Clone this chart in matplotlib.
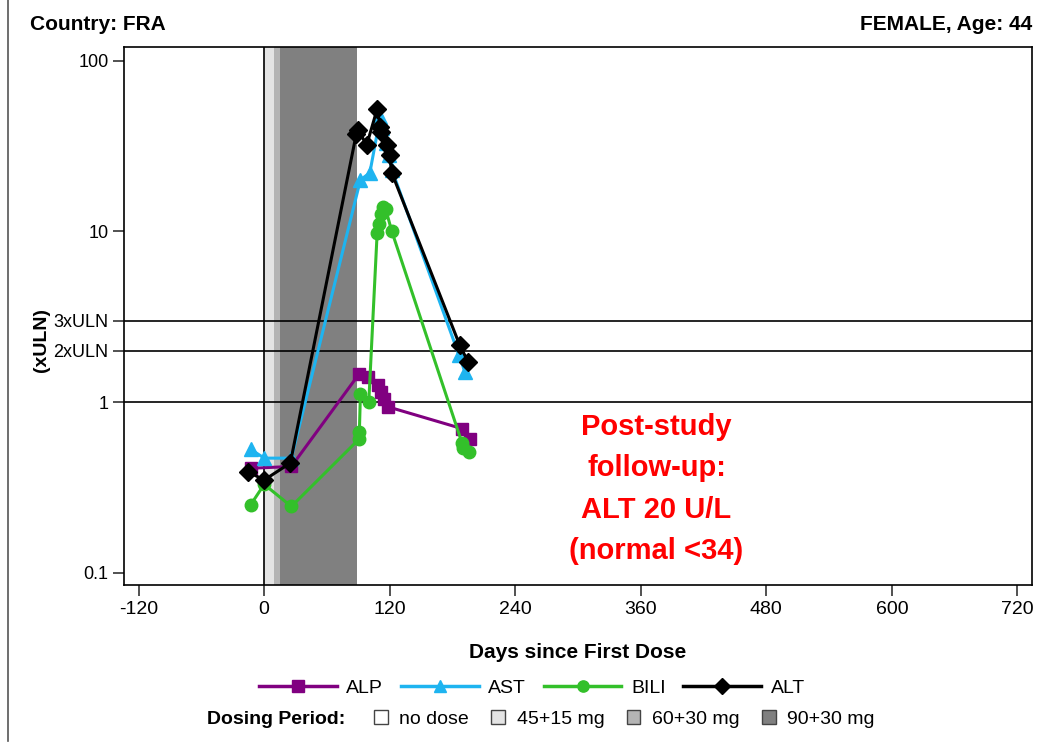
import matplotlib
matplotlib.use("Agg")
import matplotlib.pyplot as plt
from matplotlib.lines import Line2D
from matplotlib.patches import Patch
import matplotlib.ticker as mticker

plt.rcParams['font.family'] = ['Liberation Sans', 'DejaVu Sans']

# Lab values (multiples of ULN) by study day
alp_days = [-13, 26, 91, 99, 109, 112, 115, 118, 189, 197]
alp_vals = [0.41, 0.42, 1.47, 1.40, 1.26, 1.15, 1.05, 0.94, 0.70, 0.61]

ast_days = [-13, 0, 26, 92, 101, 111, 113, 116, 119, 122, 186, 192]
ast_vals = [0.53, 0.47, 0.47, 20, 22, 47, 40, 33, 28, 23, 1.9, 1.5]

bili_days = [-13, 0, 26, 91, 91, 92, 100, 108, 110, 112, 114, 116, 122, 189, 190, 196]
bili_vals = [0.25, 0.33, 0.245, 0.61, 0.67, 1.12, 1.0, 9.8, 11.0, 12.7, 13.9, 13.6, 10.0, 0.58, 0.54, 0.51]

alt_days = [-15, 0, 25, 88, 90, 98, 108, 111, 112, 117, 120, 122, 187, 195]
alt_vals = [0.39, 0.35, 0.44, 37, 39, 32, 52, 41, 38, 32, 28, 22, 2.15, 1.72]

# Dosing periods (start day, end day)
dose_labels = ["no dose", "45+15 mg", "60+30 mg", "90+30 mg"]
dose_colors = ["#ffffff", "#e4e4e4", "#b4b4b4", "#808080"]
dose_periods = [(0, 9), (9, 15), (15, 89)]

ref_levels = [1, 2, 3]
x_ticks = [-120, 0, 120, 240, 360, 480, 600, 720]

fig = plt.figure(figsize=(10.45, 7.48), dpi=100)
ax = fig.add_axes([124 / 1045, 1 - 585 / 748, (1032 - 124) / 1045, (585 - 47) / 748])

for (s, e), c in zip(dose_periods, dose_colors[1:]):
    ax.axvspan(s, e, color=c, lw=0, zorder=0)
ax.axvline(0, color="black", lw=1.2, zorder=1)

for lv in ref_levels:
    ax.axhline(lv, color="black", lw=1.2, zorder=1)

series = [
    ("ALP", alp_days, alp_vals, "#800080", "s", 9),
    ("AST", ast_days, ast_vals, "#1eb4f0", "^", 10),
    ("BILI", bili_days, bili_vals, "#33c02a", "o", 9),
    ("ALT", alt_days, alt_vals, "black", "D", 9),
]
for name, d, v, col, m, ms in series:
    ax.plot(d, v, color=col, marker=m, ms=ms, lw=2.2, zorder=3)

ax.set_yscale("log")
ax.set_ylim(0.085, 120)
ax.set_xlim(-134, 734)
ax.set_xticks(x_ticks)
ax.set_xticklabels([str(t) for t in x_ticks])
ax.set_yticks([0.1, 1, 2, 3, 10, 100])
ax.set_yticklabels(["0.1", "1", "2xULN", "3xULN", "10", "100"])
ax.yaxis.set_minor_locator(mticker.NullLocator())
ax.tick_params(axis="x", labelsize=14, length=8, width=1.2, color="#333333")
ax.tick_params(axis="y", labelsize=13, length=8, width=1.2, color="#333333", pad=3)
for sp in ax.spines.values():
    sp.set_linewidth(1.2)

ax.set_xlabel("Days since First Dose", fontsize=15, fontweight="bold", labelpad=18)
ax.set_ylabel("(xULN)", fontsize=14, fontweight="bold")
ax.yaxis.set_label_coords(-0.0815, 0.455)

fig.text(30 / 1045, 1 - 25 / 748, "Country: FRA", fontsize=15, fontweight="bold",
         ha="left", va="center")
fig.text(1032 / 1045, 1 - 25 / 748, "FEMALE, Age: 44", fontsize=15, fontweight="bold",
         ha="right", va="center")

ax.text(375, 0.31, "Post-study\nfollow-up:\nALT 20 U/L\n(normal <34)", color="red",
        fontsize=21, fontweight="bold", ha="center", va="center", linespacing=1.62)

# Left border rule
fig.add_artist(Line2D([8 / 1045, 8 / 1045], [0.01, 1.0], color="#555555", lw=1.2))

# Series legend
handles = [Line2D([], [], color=c, marker=m, ms=ms * 0.9, lw=2.5) for _, _, _, c, m, ms in series]
fig.legend(handles, [s[0] for s in series], loc="center", ncol=4,
           bbox_to_anchor=(532 / 1045, 1 - 688 / 748), frameon=False,
           fontsize=14, handlelength=4.0, columnspacing=0.9, handletextpad=0.5)

# Dosing-period legend
fig.text(345 / 1045, 1 - 719 / 748, "Dosing Period:", fontsize=14, fontweight="bold",
         ha="right", va="center")
dose_handles = [Patch(facecolor=c, edgecolor="#444444", lw=1) for c in dose_colors]
fig.legend(dose_handles, dose_labels, loc="center left", ncol=4,
           bbox_to_anchor=(374 / 1045, 1 - 719 / 748), frameon=False, fontsize=14,
           handlelength=0.7, handleheight=0.7, columnspacing=1.15, handletextpad=0.6,
           borderaxespad=0, borderpad=0)

fig.savefig("out.png", dpi=100)
